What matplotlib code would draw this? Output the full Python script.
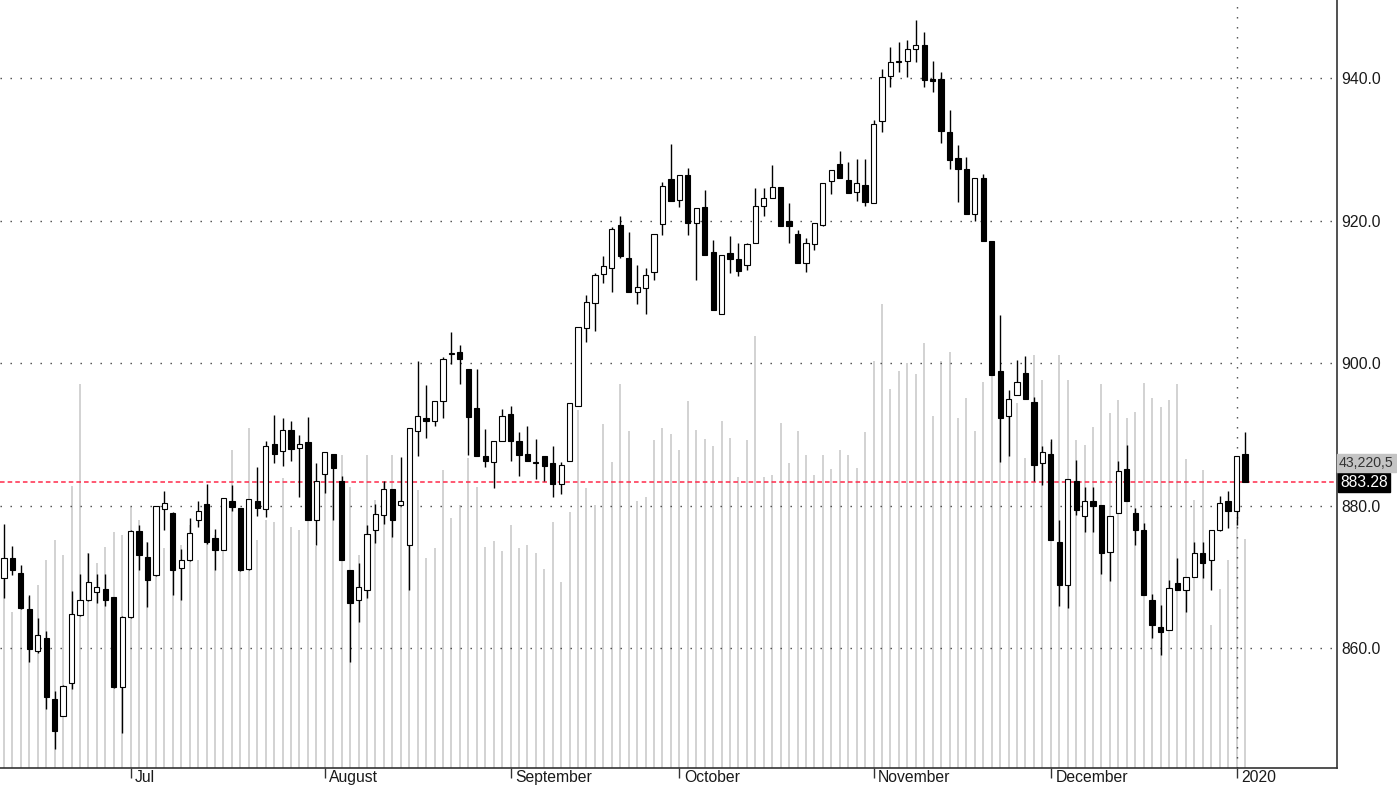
import matplotlib
matplotlib.use("Agg")
import matplotlib.pyplot as plt
import matplotlib.transforms as mtransforms
import numpy as np

plt.rcParams['font.family'] = ['Liberation Sans', 'DejaVu Sans']

# daily candles, mid June 2019 -> first days of 2020
opens = [869.8, 872.7, 870.5, 865.5, 859.6, 861.4, 852.9, 850.5, 855.1, 864.6,
         866.7, 867.9, 868.3, 867.1, 854.5, 864.3, 876.4, 872.8, 870.2, 879.5,
         879.0, 871.2, 872.3, 877.9, 880.2, 875.5, 873.8, 880.7, 879.7, 871.1,
         880.6, 879.5, 888.7, 887.6, 890.6, 888.1, 888.9, 878.0, 884.4, 887.3,
         883.4, 871.0, 866.8, 868.2, 876.5, 878.6, 882.3, 880.1, 874.5, 890.4,
         892.3, 891.8, 894.6, 901.3, 901.6, 899.2, 893.7, 886.9, 886.1, 889.0,
         892.8, 889.0, 887.3, 886.0, 886.9, 886.0, 883.0, 886.2, 894.0, 904.9,
         908.4, 912.5, 913.3, 919.4, 914.8, 910.0, 910.5, 912.8, 919.5, 925.8,
         922.9, 926.4, 919.7, 921.9, 915.6, 906.9, 915.4, 914.6, 913.8, 916.8,
         922.0, 923.2, 924.7, 919.9, 918.1, 914.1, 916.7, 919.4, 925.5, 928.0,
         925.7, 924.0, 925.0, 922.4, 934.0, 940.3, 942.2, 942.4, 944.1, 944.6,
         939.9, 939.9, 932.4, 928.8, 927.3, 920.9, 925.9, 917.1, 898.9, 892.5,
         895.5, 898.6, 894.5, 885.9, 887.3, 874.9, 868.9, 883.4, 878.5, 880.6,
         880.1, 873.5, 878.9, 885.1, 879.0, 876.5, 866.7, 863.0, 862.5, 869.1,
         868.2, 869.9, 873.4, 872.3, 876.6, 880.6, 879.2, 887.3]
highs = [877.4, 874.3, 871.6, 867.4, 864.2, 862.4, 853.9, 854.8, 868.0, 870.4,
         873.4, 870.4, 870.4, 867.2, 864.5, 876.5, 877.2, 874.9, 880.0, 882.1,
         879.1, 873.9, 878.2, 880.7, 883.0, 876.7, 881.1, 882.9, 879.7, 880.9,
         885.4, 889.0, 892.7, 892.3, 891.9, 889.9, 892.4, 885.9, 887.5, 887.3,
         884.2, 871.0, 872.0, 877.3, 880.2, 883.5, 882.3, 886.8, 890.9, 900.3,
         896.9, 894.7, 900.8, 904.3, 902.5, 899.2, 899.2, 890.8, 889.1, 893.6,
         894.0, 890.3, 891.2, 889.4, 886.9, 888.4, 886.1, 894.4, 905.1, 909.5,
         912.6, 915.0, 919.1, 920.6, 918.4, 913.8, 913.3, 918.1, 925.4, 930.8,
         926.4, 927.4, 921.7, 924.3, 917.3, 915.2, 917.8, 916.9, 916.9, 924.5,
         924.6, 927.8, 924.7, 922.5, 918.6, 917.5, 919.6, 925.3, 927.1, 929.8,
         928.2, 928.7, 928.7, 934.1, 941.2, 944.4, 945.1, 945.3, 948.2, 946.4,
         942.4, 940.9, 935.5, 930.6, 928.9, 925.9, 926.5, 917.1, 906.7, 896.2,
         900.4, 901.0, 895.3, 888.4, 889.4, 877.9, 883.7, 886.4, 882.6, 882.6,
         880.1, 878.5, 886.2, 888.5, 879.6, 877.6, 867.6, 866.0, 869.6, 872.7,
         870.0, 874.9, 874.9, 876.5, 881.3, 882.0, 886.9, 890.3]
lows = [867.0, 870.3, 865.5, 858.0, 859.3, 851.4, 845.8, 850.4, 854.2, 864.5,
        866.6, 866.3, 865.9, 854.4, 848.1, 864.2, 871.0, 865.7, 870.1, 876.5,
        867.5, 866.7, 872.2, 877.0, 874.6, 871.0, 873.8, 879.2, 870.8, 871.0,
        878.5, 878.4, 885.9, 885.5, 886.3, 881.2, 877.9, 874.5, 881.8, 878.0,
        872.4, 858.1, 863.7, 867.0, 874.7, 877.4, 875.6, 880.1, 868.2, 887.0,
        889.5, 891.1, 892.3, 899.9, 897.1, 887.1, 887.0, 885.4, 882.4, 889.0,
        886.2, 884.2, 886.2, 883.7, 883.5, 881.2, 881.6, 886.2, 894.0, 902.9,
        904.5, 911.2, 910.0, 914.7, 910.0, 908.3, 906.9, 911.7, 917.9, 922.8,
        921.9, 917.9, 911.7, 915.1, 907.5, 906.9, 912.6, 912.2, 913.1, 916.8,
        920.6, 923.2, 919.2, 916.9, 914.1, 912.8, 915.9, 919.2, 923.7, 926.0,
        923.8, 922.7, 922.1, 922.4, 932.4, 938.7, 940.9, 940.2, 942.2, 938.8,
        938.0, 930.9, 927.2, 922.6, 920.9, 920.0, 917.1, 898.3, 886.1, 886.9,
        895.5, 895.0, 883.4, 882.9, 875.2, 865.9, 865.6, 878.7, 876.3, 876.3,
        870.4, 869.4, 878.9, 880.6, 874.4, 867.5, 861.4, 859.0, 862.5, 868.2,
        865.0, 869.9, 869.8, 868.2, 876.4, 876.8, 877.2, 883.28]
closes = [872.7, 871.0, 865.6, 859.8, 861.8, 853.1, 848.3, 854.6, 864.8, 866.8,
          869.2, 868.6, 866.8, 854.5, 864.4, 876.4, 873.0, 869.6, 879.9, 880.4,
          871.0, 872.3, 876.2, 879.2, 874.9, 873.8, 881.1, 879.8, 870.9, 880.9,
          879.7, 888.3, 887.3, 890.6, 887.9, 888.7, 878.0, 883.4, 887.5, 885.2,
          872.4, 866.3, 868.5, 876.0, 878.8, 882.3, 878.0, 880.6, 890.9, 892.5,
          891.8, 894.7, 900.6, 901.3, 900.5, 892.4, 887.0, 886.2, 889.1, 892.5,
          889.0, 887.1, 886.2, 886.0, 885.6, 883.0, 885.7, 894.4, 905.1, 908.6,
          912.3, 913.6, 918.8, 915.0, 910.0, 910.7, 912.4, 918.1, 924.8, 922.8,
          926.4, 919.7, 921.7, 915.1, 907.5, 915.2, 914.6, 912.9, 916.7, 922.0,
          923.2, 924.7, 919.2, 919.2, 914.1, 916.9, 919.6, 925.3, 927.1, 926.0,
          923.8, 925.2, 922.6, 933.6, 940.2, 942.2, 942.2, 944.1, 944.6, 939.7,
          939.6, 932.6, 928.5, 927.3, 920.9, 925.9, 917.1, 898.3, 892.3, 894.9,
          897.4, 895.0, 885.7, 887.5, 875.2, 868.8, 883.7, 879.4, 880.6, 880.0,
          873.4, 878.5, 884.9, 880.6, 876.6, 867.5, 863.3, 862.2, 868.4, 868.2,
          870.0, 873.4, 872.0, 876.5, 880.4, 879.2, 886.9, 883.28]
# volume in millions of shares
volumes = [36.4, 29.4, 31.7, 32.3, 34.5, 39.3, 43.0, 40.2, 53.2, 72.5,
           40.6, 38.7, 41.7, 44.5, 44.0, 49.3, 46.8, 42.6, 47.7, 41.5,
           44.9, 42.1, 45.9, 39.3, 43.0, 44.0, 44.9, 60.0, 46.8, 64.2,
           43.0, 46.8, 46.4, 54.7, 45.5, 44.9, 49.6, 41.9, 56.2, 52.5,
           59.1, 53.0, 40.2, 59.1, 50.6, 53.8, 59.1, 50.6, 44.9, 52.5,
           39.6, 41.5, 56.2, 47.2, 49.6, 58.5, 53.0, 41.7, 42.8, 40.9,
           45.9, 41.5, 42.1, 40.6, 37.6, 46.4, 35.1, 48.3, 67.6, 52.8,
           49.6, 64.9, 57.7, 72.5, 63.6, 50.4, 51.1, 61.9, 64.2, 63.0,
           60.0, 69.3, 63.8, 62.1, 60.8, 65.5, 62.3, 54.9, 61.9, 81.5,
           54.9, 55.3, 65.1, 57.6, 63.6, 59.1, 55.3, 59.1, 56.4, 60.0,
           59.1, 56.6, 63.4, 76.8, 87.6, 71.5, 74.9, 76.4, 74.3, 80.2,
           66.4, 76.8, 78.5, 66.0, 69.8, 63.6, 72.8, 75.1, 70.4, 68.5,
           68.9, 58.5, 77.9, 73.2, 61.5, 77.9, 73.2, 61.9, 60.9, 64.3,
           72.5, 67.0, 69.4, 66.0, 67.2, 72.6, 69.8, 68.1, 69.4, 72.5,
           58.3, 50.6, 56.2, 27.0, 33.8, 39.3, 46.8, 43.22]

month_labels = ["Jul", "August", "September", "October", "November", "December", "2020"]
month_starts = [15, 38, 60, 80, 103, 124, 146]
grid_levels = [860, 880, 900, 920, 940]
last_price = 883.28
last_volume_text = "43,220,5"

o = np.array(opens)
h = np.array(highs)
l = np.array(lows)
c = np.array(closes)
x = np.arange(len(c))

fig = plt.figure(figsize=(13.97, 7.85), dpi=100)
rect = [0, 17 / 785, 1337 / 1397, 768 / 785]

# volume in the background
ax_vol = fig.add_axes(rect)
ax_vol.vlines(x, 0, volumes, color='#cbcbcb', lw=1.2)
ax_vol.set_xlim(-0.47, 157.9)
ax_vol.set_ylim(0, 144.9)
ax_vol.axis('off')

# price candles on top
ax = fig.add_axes(rect, facecolor='none')
ax.set_xlim(-0.47, 157.9)
ax.set_ylim(843.16, 950.95)

for lv in grid_levels:
    ax.axhline(lv, color='#444444', lw=1.0, dashes=(1, 6.2), zorder=1)
ax.axvline(month_starts[-1], color='#444444', lw=1.0, dashes=(1, 6.2), zorder=1)
ax.axhline(last_price, color='#ff2a4a', lw=1.1, dashes=(3, 2), zorder=2)

ax.vlines(x, l, h, color='black', lw=1.0, zorder=3)
up = c >= o
body = np.maximum(np.abs(c - o), 0.12)
bottom = np.minimum(o, c)
ax.bar(x[up], body[up], bottom=bottom[up], width=0.62, facecolor='white',
       edgecolor='black', lw=0.8, zorder=4)
ax.bar(x[~up], body[~up], bottom=bottom[~up], width=0.62, facecolor='black',
       edgecolor='black', lw=0.8, zorder=4)

for s in ['left', 'top']:
    ax.spines[s].set_visible(False)
for s in ['bottom', 'right']:
    ax.spines[s].set_color('#333333')
    ax.spines[s].set_linewidth(1.2)

ax.yaxis.tick_right()
ax.set_yticks(grid_levels)
ax.set_yticklabels([f"{v:.1f}" for v in grid_levels])
ax.tick_params(axis='y', length=0, pad=3, labelsize=11.3, colors='#1a1a1a')

ax.set_xticks(month_starts)
ax.set_xticklabels([])
ax.tick_params(axis='x', length=7, width=1, direction='out', color='#333333')
trans = mtransforms.blended_transform_factory(ax.transData, ax.transAxes)
for pos, lab in zip(month_starts, month_labels):
    ax.text(pos + 0.55, -0.003, lab, transform=trans, ha='left', va='top',
            fontsize=11.3, color='#1a1a1a')

ax.annotate(f"{last_price:.2f}", xy=(1, last_price), xycoords=('axes fraction', 'data'),
            xytext=(3, 0), textcoords='offset pixels', ha='left', va='center',
            color='white', fontsize=11.3,
            bbox=dict(boxstyle='square,pad=0.12', fc='black', ec='black'))
ax.annotate(last_volume_text, xy=(1, last_price), xycoords=('axes fraction', 'data'),
            xytext=(2, 19), textcoords='offset pixels', ha='left', va='center',
            color='#333333', fontsize=10.2,
            bbox=dict(boxstyle='square,pad=0.15', fc='#c4c4c4', ec='#c4c4c4'))

fig.savefig("out.png", dpi=100)
